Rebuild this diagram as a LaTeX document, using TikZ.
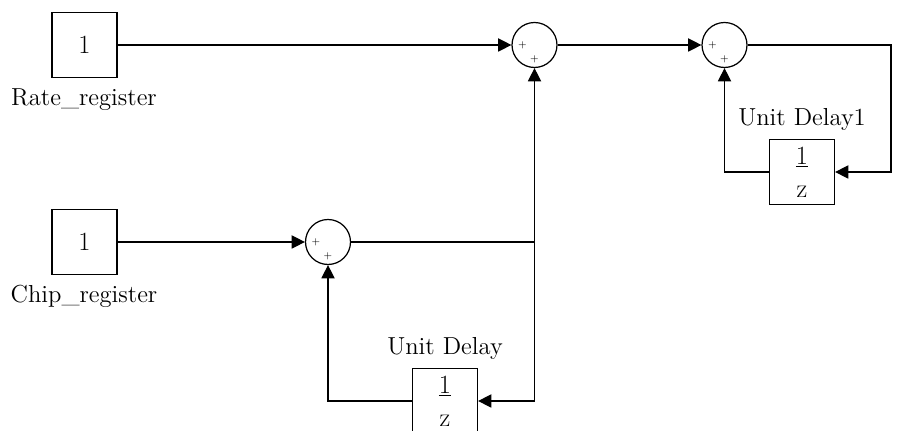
\documentclass[tikz,border=0pt]{standalone}
\usepackage{tikz}
\usetikzlibrary{positioning, arrows.meta, calc}

\begin{document}
\begin{tikzpicture}[x=0.02cm, y=-0.02cm, line width=0.7pt,
  every node/.style={font=\fontsize{14}{16}\selectfont},
  blk/.style={draw, minimum width=1.3cm, minimum height=1.3cm, inner sep=0pt, font=\fontsize{15}{17}\selectfont},
  sumnode/.style={draw, circle, minimum size=0.9cm, inner sep=0pt},
  sig/.style={-{Triangle[length=7.5pt, width=7.5pt]}}]
\useasboundingbox (0,0) rectangle (898,431);
% Constant inputs
\node[blk] (rate) at (84.5,45) {1};
\node (ratelbl) at (84,100) {Rate\_register};
\node[blk] (chip) at (84.5,242) {1};
\node (chiplbl) at (84,296) {Chip\_register};
% Sum blocks
\node[sumnode] (sumA) at (534.5,45) {};
\node[sumnode] (sumB) at (724.5,45) {};
\node[sumnode] (sumC) at (328,242) {};
\foreach \s in {sumA, sumB, sumC} {
  \node[font=\tiny, inner sep=0pt] (\s-p1) at ($(\s)+(-12,0)$) {+};
  \node[font=\tiny, inner sep=0pt] (\s-p2) at ($(\s)+(0,14)$) {+};
}
% Unit delays
\node[blk, align=center] (delA) at (802,172) {\underline{1}\\[2pt]z};
\node[above=1pt of delA] (delAlbl) {Unit Delay1};
\node[blk, align=center] (delB) at (445,401) {\underline{1}\\[2pt]z};
\node[above=1pt of delB] (delBlbl) {Unit Delay};
% Signal lines
\coordinate (fbR) at (891,0);
\coordinate (jn) at (sumC.east -| sumA.south);
\draw[sig] (rate.east) -- (sumA.west);
\draw[sig] (sumA.east) -- (sumB.west);
\draw[sig] (sumB.east) -- (sumB.east -| fbR) |- (delA.east);
\draw[sig] (delA.west) -| (sumB.south);
\draw[sig] (chip.east) -- (sumC.west);
\draw[sig] (sumC.east) -| (sumA.south);
\draw[sig] (jn) |- (delB.east);
\draw[sig] (delB.west) -| (sumC.south);
\end{tikzpicture}
\end{document}
